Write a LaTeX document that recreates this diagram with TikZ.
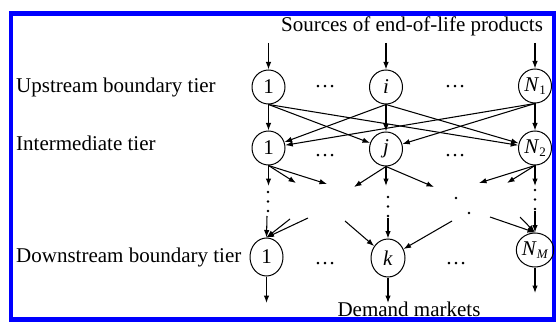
\documentclass[tikz,border=0pt]{standalone}
\usepackage{fontspec}
\setmainfont{Liberation Serif}
\usetikzlibrary{arrows.meta,shapes.geometric}
\newcommand\tierfont{\fontsize{21}{25}\selectfont}
\newcommand\mysub[1]{\raisebox{-0.35ex}{\fontsize{13}{13}\selectfont #1}}
\tikzset{
  tier/.style={anchor=base west, inner sep=0pt, font=\tierfont},
  head/.style={anchor=base, inner sep=0pt, font=\tierfont},
  nd/.style={ellipse, draw, line width=1pt, minimum width=33pt, minimum height=34pt, inner sep=0pt, font=\tierfont},
  hdots/.style={inner sep=0pt, font=\tierfont},
  arr/.style={-{Latex[length=7.5pt,width=5.5pt]}, line width=1.05pt},
  dotline/.style={line width=2.6pt, line cap=round, dash pattern=on 0pt off 9.5pt},
  frame/.style={draw=blue, line width=4.5pt},
}
\begin{document}
\begin{tikzpicture}[x=1pt,y=-1pt]
\useasboundingbox (0,0) rectangle (556,323);
\draw[frame] (10.8,13.3) rectangle (554.5,319.5);

% texts
\node[head] (src) at (412,32) {Sources of end-of-life products};
\node[head] (dem) at (409,316) {Demand markets};
\node[tier] (lu) at (16,93) {Upstream boundary tier};
\node[tier] (lm) at (16,150) {Intermediate tier};
\node[tier] (ld) at (16,262) {Downstream boundary tier};

% upstream tier
\node[nd] (u1) at (268.5,87) {1};
\node[nd] (u2) at (386,87) {\textit{i}};
\node[nd] (u3) at (535,86) {\textit{N}\mysub{1}};
\node[hdots] (du1) at (325,87) {\ldots};
\node[hdots] (du2) at (455,87) {\ldots};

% intermediate tier
\node[nd] (m1) at (268.5,148) {1};
\node[nd] (m2) at (386,149) {\textit{j}};
\node[nd] (m3) at (535,148) {\textit{N}\mysub{2}};
\node[hdots] (dm1) at (325,156) {\ldots};
\node[hdots] (dm2) at (455,156) {\ldots};

% downstream tier
\node[nd, minimum height=38pt] (d1) at (266.5,257) {1};
\node[nd, minimum width=34pt, minimum height=38pt] (d2) at (388,258) {\textit{k}};
\node[nd, minimum width=31pt, minimum height=34pt] (d3) at (535,250) {\textit{N}\mysub{\textit{M}}};
\node[hdots] (dd1) at (325,264) {\ldots};
\node[hdots] (dd2) at (456,264) {\ldots};

% inflows from sources
\coordinate (s1) at (268.5,43);
\coordinate (s2) at (386,43);
\coordinate (s3) at (535,43);
\draw[arr] (s1) -- (u1);
\draw[arr] (s2) -- (u2);
\draw[arr] (s3) -- (u3);

% upstream to intermediate
\foreach \s in {u1,u2,u3}{
  \foreach \t in {m1,m2,m3}{
    \draw[arr] (\s.south) -- (\t);
  }
}

% intermediate fan-out
\coordinate (a11) at (268.5,186);
\coordinate (a12) at (296,183);
\coordinate (a13) at (327,184);
\coordinate (a21) at (354,187);
\coordinate (a22) at (386,186);
\coordinate (a23) at (434,187);
\coordinate (a31) at (479,183);
\coordinate (a32) at (507,183);
\coordinate (a33) at (535,186);
\foreach \t in {a11,a12,a13}{\draw[arr] (m1.south) -- (\t);}
\foreach \t in {a21,a22,a23}{\draw[arr] (m2.south) -- (\t);}
\foreach \t in {a31,a32,a33}{\draw[arr] (m3.south) -- (\t);}

% dotted continuations
\coordinate (p1a) at (268,192);
\coordinate (p1b) at (268,211.5);
\coordinate (p2a) at (388,197);
\coordinate (p2b) at (388,216.5);
\coordinate (p3a) at (535,190);
\coordinate (p3b) at (535,209.5);
\draw[dotline] (p1a) -- (p1b);
\draw[dotline] (p2a) -- (p2b);
\draw[dotline] (p3a) -- (p3b);
\fill (456,198) circle (1.3pt);
\fill (469,213) circle (1.3pt);

% inflows to downstream tier
\coordinate (b10) at (267,216);
\coordinate (b11) at (290,219);
\coordinate (b12) at (308,218);
\coordinate (b20) at (388,218);
\coordinate (b21) at (345,221);
\coordinate (b22) at (452,221);
\coordinate (b30) at (535,211);
\coordinate (b31) at (490,217);
\coordinate (b32) at (520,217);
\draw[arr] (b10) -- (d1.north);
\draw[arr] (b11) -- (d1.north);
\draw[arr] (b12) -- (d1.north);
\draw[arr] (b20) -- (d2.north);
\draw[arr] (b21) -- (d2);
\draw[arr] (b22) -- (d2);
\draw[arr] (b30) -- (d3.north);
\draw[arr] (b31) -- (d3.north);
\draw[arr] (b32) -- (d3.north);

% outflows to demand markets
\coordinate (e1) at (266.5,303);
\coordinate (e2) at (388,303);
\coordinate (e3) at (535,293);
\draw[arr] (d1) -- (e1);
\draw[arr] (d2) -- (e2);
\draw[arr] (d3) -- (e3);
\end{tikzpicture}
\end{document}
